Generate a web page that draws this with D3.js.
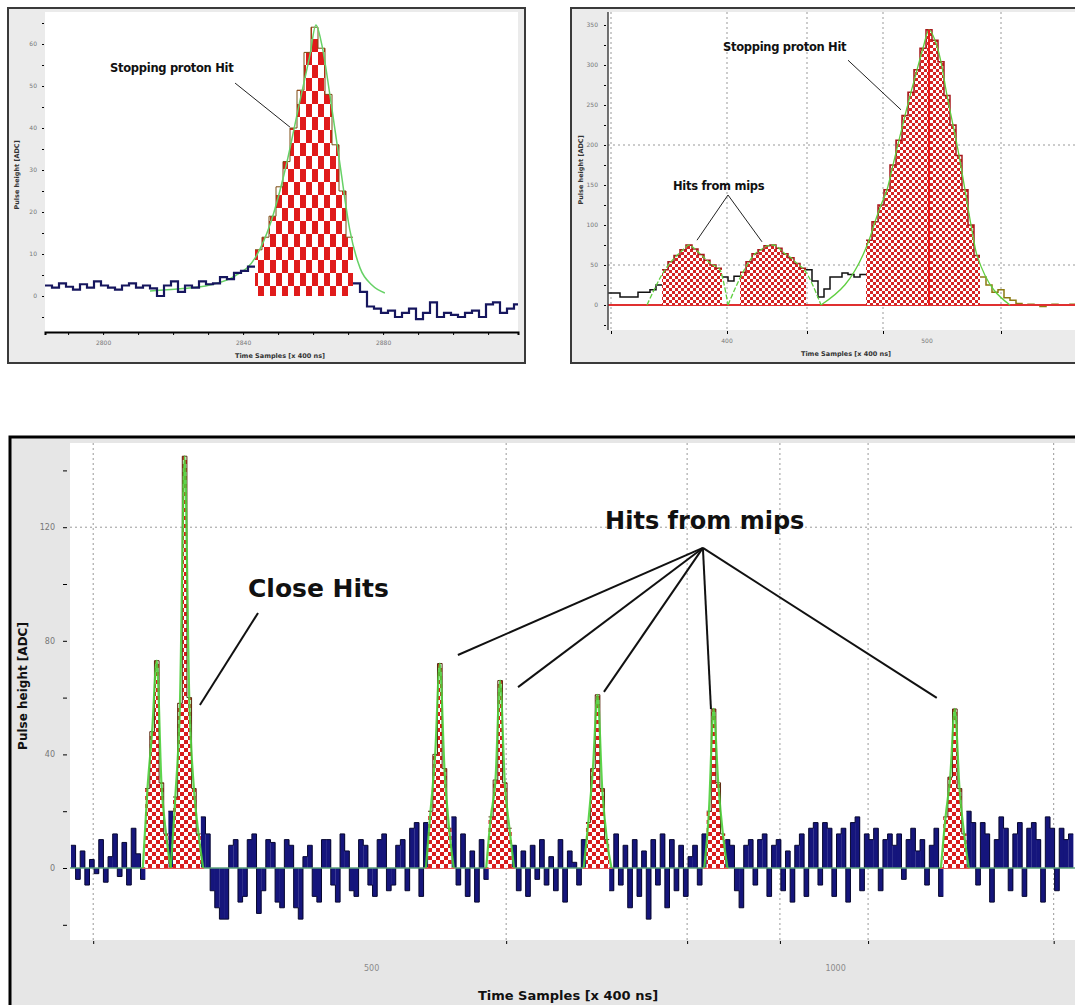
<!DOCTYPE html>
<html><head><meta charset="utf-8">
<script src="https://cdn.jsdelivr.net/npm/d3@7"></script>
<style>
body{margin:0;background:#fff}
svg{display:block}
text{font-family:"DejaVu Sans",sans-serif}
</style>
</head><body>
<svg id="c" width="1075" height="1005"></svg>
<script>
// ================= DATA =================
// Panel A (top left): a single stopping proton hit
const aStart = 2783.4, aBin = 2;
const aValues = [2.5, 2, 3, 2.2, 1.5, 2.8, 2, 3.5, 2.5, 2, 1.5, 2.5, 3, 2, 2.5, 1.8, 0, 2.5, 3.5, 1, 2.5, 2, 3.5, 2.8, 3, 4.5, 4, 5.5, 6, 7,
  11, 14, 19, 26, 32, 40, 49, 58, 64, 59, 48, 36, 25, 14,
  3, 1, -2.5, -3, -4, -3.5, -5, -4, -3, -5.5, -4, -1.5, -5, -4, -4.5, -5, -4, -3.5, -5, -2, -1.5, -4, -3, -2];
const aHit = [30, 43];
const aFitT = [2813.4, 2822, 2830.5, 2837.7, 2843.4, 2847.7, 2852, 2856.3, 2859.1, 2860.8, 2862.5, 2864.8, 2867.7, 2870.5, 2873.4, 2876.8, 2880.5];
const aFitV = [1.2, 1.7, 2.6, 4.8, 9, 17, 30, 46.7, 57.4, 64.5, 59.8, 47.9, 31.2, 15.7, 6.7, 2.6, 0.7];
const aXTicks = [2790, 2800, 2810, 2820, 2830, 2840, 2850, 2860, 2870, 2880, 2890, 2900, 2910];
const aXLabels = [2800, 2840, 2880];
const aYTicks = [-5, 0, 5, 10, 15, 20, 25, 30, 35, 40, 45, 50, 55, 60, 65];
const aYLabels = [0, 10, 20, 30, 40, 50, 60];
const aLabelPos = [2802, 53.3];
const aLeader = [[2837.7, 50.7], [2853.4, 40.2]];

// Panel B (top right): two mip hits and a stopping proton
const bStart = 340.5, bBin = 3;
const bValues = [15, 15, 10, 10, 10, 16, 16, 19, 25,
  44, 54, 62, 69, 75, 70, 63, 56, 50, 46,
  35, 30, 36,
  41, 54, 64, 69, 74, 75, 71, 64, 59, 52, 46,
  44, 30, 10,
  20, 35, 35, 40, 38, 35, 38,
  81, 104, 125, 144, 175, 206, 237, 266, 294, 321, 344, 331, 304, 262, 225, 187, 144, 100, 62,
  35, 25, 16, 19, 9, 6,
  2, 0, 1, 0, -2, 0, 1, 0, 0, 1];
const bHits = [[9, 18], [22, 32], [43, 61]];
const bFitZeros = [[6.5, 20], [20, 35.5], [35.5, 67]];
const bXGrid = [342, 400, 440, 478, 537];
const bXLabels = [400, 500];
const bYTicks = [-25, 0, 25, 50, 75, 100, 125, 150, 175, 200, 225, 250, 275, 300, 325, 350];
const bYLabels = [0, 50, 100, 150, 200, 250, 300, 350];
const bYGrid = [50, 200];
const bLabel1Pos = [398, 317.5];
const bLeader1 = [[460.5, 306], [487, 244]];
const bLabel2Pos = [373, 144];
const bLeader2 = [[385, 81], [400.5, 137.5], [417.5, 79]];

// Panel C (bottom): close hits and hits from mips on a noisy baseline
const cStart = 176, cBin = 5;
const cValues = [8, -4, 6, -6, 3, -2, 10, -5, 4, 12, -3, 9, -6, 14, 5, -4,
  28, 48, 73, 30, 12,
  20,
  25, 58, 145, 60, 28, 12,
  18, 12, -8, -14, -18, -18, 8, 10, -12, -10, 10, 12, -16, -8, 10, 9, -12, -14, 10, 8, -14, -18, 4, 8, -10, -12, 10, 10, -6, -12, 12, 6, -8, -10, 10, 8, -6, -10, 10, 12, -8, -6, 8, 10, -8, 14, 16, -10, 16,
  20, 40, 72, 35, 14,
  18, -6, 12, -10, 6, -12, 10, -4,
  18, 31, 66, 30, 14,
  8, -8, 6, -10, 8, -4, 10, -6, 4, -8, 10, -12, 6, 2, -6, 10,
  16, 35, 61, 28, 10,
  -8, 12, -6, 8, -14, 10, -10, 6, -18, 10, -6, 12, -14, 10, -8, 8, -10, 4, 8, -6, 12,
  20, 56, 30, 12,
  10, 8, -8, -14, 8, 10, -6, 10, 12, -10, 8, 10, -8, 6, -12, 8, 12, -10, 14, 16, -6, 16, 14, -10, 12, 14, -12, 16, 18, -8, 12, 10, 14, -8, 10, 12, 8, 12, -4, 10, 14, 6, 10, -6, 8, 14, -10,
  18, 32, 56, 28, 12,
  20, 16, -6, 16, 12, -12, 10, 18, 14, -8, 12, 16, -10, 14, 16, 10, -12, 18, 14, -8, 14, 10, 12];
const cHits = [[16, 20], [22, 27], [77, 81], [90, 94], [111, 115], [137, 140], [188, 192]];
const cXGrid = [200, 645, 840, 940, 1035, 1235];
const cXLabels = [500, 1000];
const cYTicks = [-20, 0, 20, 40, 60, 80, 100, 120, 140];
const cYLabels = [0, 40, 80, 120];
const cYGrid = [120];
const cLabel1Pos = [366.8, 95.4];
const cLeader1 = [[377.6, 89.8], [315, 57.4]];
const cLabel2Pos = [859, 119.5];
const cHub = [857, 112.7];
const cLeaderEnds = [[593, 75], [657.8, 63.7], [750.4, 62], [865.7, 56], [1109, 59.9]];

const xTitle = "Time Samples [x 400 ns]";
const yTitle = "Pulse height [ADC]";

// ================= DRAWING =================
const svg = d3.select('#c');
const defs = svg.append('defs');
function checker(id, w, h, red) {
  const p = defs.append('pattern').attr('id', id).attr('patternUnits', 'userSpaceOnUse')
    .attr('width', 2 * w).attr('height', 2 * h);
  p.append('rect').attr('width', 2 * w).attr('height', 2 * h).attr('fill', red);
  p.append('rect').attr('width', w).attr('height', h).attr('fill', '#fff');
  p.append('rect').attr('x', w).attr('y', h).attr('width', w).attr('height', h).attr('fill', '#fff');
}
checker('patA', 6, 13, '#e01b1b');
checker('patB', 3, 3, '#d42424');
checker('patC', 4, 4, '#d81c1c');
function clip(id, x, y, w, h) {
  defs.append('clipPath').attr('id', id).append('rect').attr('x', x).attr('y', y).attr('width', w).attr('height', h);
}

function pts(values, start, bin, from, to) {
  const p = [];
  for (let i = from; i <= to; i++) p.push({ t: start + i * bin, v: values[i] });
  p.push({ t: start + (to + 1) * bin, v: values[to] });
  return p;
}

// ---------- Panel A ----------
{
  svg.append('rect').attr('x', 8).attr('y', 8).attr('width', 517).attr('height', 355)
    .attr('fill', '#ebebeb').attr('stroke', '#3a3a3a').attr('stroke-width', 2);
  svg.append('rect').attr('x', 45).attr('y', 12).attr('width', 473).attr('height', 320).attr('fill', '#fff');
  const x = d3.scaleLinear().domain([aStart, aStart + 473 / 3.5]).range([45, 518]);
  const y = d3.scaleLinear().domain([-8.57, 67.62]).range([332, 12]);
  clip('clipA', 45, 12, 473, 320);
  const g = svg.append('g').attr('clip-path', 'url(#clipA)');
  const area = d3.area().curve(d3.curveStepAfter).x(d => x(d.t)).y0(y(0)).y1(d => y(d.v));
  const line = d3.line().curve(d3.curveStepAfter).x(d => x(d.t)).y(d => y(d.v));
  const hp = pts(aValues, aStart, aBin, aHit[0], aHit[1]);
  g.append('path').attr('d', area(hp)).attr('fill', 'url(#patA)');
  g.append('path').attr('d', line(hp)).attr('fill', 'none').attr('stroke', '#7a4a10').attr('stroke-width', 1);
  const fit = aFitT.map((t, i) => ({ t, v: aFitV[i] }));
  g.append('path').attr('d', d3.line().curve(d3.curveMonotoneX).x(d => x(d.t)).y(d => y(d.v))(fit))
    .attr('fill', 'none').attr('stroke', '#66d166').attr('stroke-width', 1.5);
  [[0, aHit[0] - 1], [aHit[1] + 1, aValues.length - 1]].forEach(([a, b]) => {
    g.append('path').attr('d', line(pts(aValues, aStart, aBin, a, b)))
      .attr('fill', 'none').attr('stroke', '#16165e').attr('stroke-width', 2.2);
  });
  const ax = svg.append('g').attr('transform', 'translate(0,332)')
    .call(d3.axisBottom(x).tickValues(aXTicks).tickSize(3).tickPadding(6).tickFormat(d => aXLabels.includes(d) ? d : ''));
  ax.select('.domain').attr('stroke-width', 2);
  ax.selectAll('text').attr('font-size', 6).attr('fill', '#777');
  const ay = svg.append('g').attr('transform', 'translate(44,0)')
    .call(d3.axisLeft(y).tickValues(aYTicks).tickSize(2).tickPadding(5).tickFormat(d => aYLabels.includes(d) ? d : ''));
  ay.select('.domain').remove();
  ay.selectAll('text').attr('font-size', 6).attr('fill', '#777');
  svg.append('text').attr('x', 280).attr('y', 358).attr('text-anchor', 'middle').attr('font-size', 6.5)
    .attr('font-weight', 'bold').attr('fill', '#333').text(xTitle);
  svg.append('text').attr('transform', 'translate(19,175) rotate(-90)').attr('text-anchor', 'middle')
    .attr('font-size', 6.5).attr('font-weight', 'bold').attr('fill', '#333').text(yTitle);
  svg.append('text').attr('x', x(aLabelPos[0])).attr('y', y(aLabelPos[1])).attr('font-size', 11.5)
    .attr('font-weight', 'bold').attr('letter-spacing', -0.3).attr('fill', '#111').text('Stopping proton Hit');
  svg.append('path').attr('d', d3.line().x(d => x(d[0])).y(d => y(d[1]))(aLeader))
    .attr('stroke', '#222').attr('stroke-width', 1).attr('fill', 'none');
}

// ---------- Panel B ----------
{
  svg.append('rect').attr('x', 571).attr('y', 8).attr('width', 520).attr('height', 355)
    .attr('fill', '#ebebeb').attr('stroke', '#3a3a3a').attr('stroke-width', 2);
  svg.append('rect').attr('x', 608).attr('y', 12).attr('width', 467).attr('height', 318).attr('fill', '#fff');
  const x = d3.scaleLinear().domain([bStart, bStart + 467 / 2]).range([608, 1075]);
  const y = d3.scaleLinear().domain([-31.25, 366.25]).range([330, 12]);
  clip('clipB', 608, 12, 467, 318);
  const g = svg.append('g').attr('clip-path', 'url(#clipB)');
  bYGrid.forEach(v => g.append('line').attr('x1', 608).attr('x2', 1075).attr('y1', y(v)).attr('y2', y(v))
    .attr('stroke', '#999').attr('stroke-dasharray', '2,3'));
  bXGrid.forEach(t => g.append('line').attr('x1', x(t)).attr('x2', x(t)).attr('y1', 12).attr('y2', 330)
    .attr('stroke', '#999').attr('stroke-dasharray', '2,3'));
  const area = d3.area().curve(d3.curveStepAfter).x(d => x(d.t)).y0(y(0)).y1(d => y(d.v));
  const line = d3.line().curve(d3.curveStepAfter).x(d => x(d.t)).y(d => y(d.v));
  let prev = 0;
  bHits.forEach(([a, b]) => {
    if (a - 1 >= prev) g.append('path').attr('d', line(pts(bValues, bStart, bBin, prev, a - 1)))
      .attr('fill', 'none').attr('stroke', '#111').attr('stroke-width', 1.5);
    prev = b + 1;
  });
  g.append('path').attr('d', line(pts(bValues, bStart, bBin, prev, bValues.length - 1)))
    .attr('fill', 'none').attr('stroke', '#8a7a10').attr('stroke-width', 1.5);
  g.append('line').attr('x1', 608).attr('x2', 1075).attr('y1', y(0)).attr('y2', y(0))
    .attr('stroke', '#e03030').attr('stroke-width', 2);
  bHits.forEach(([a, b], k) => {
    const hp = pts(bValues, bStart, bBin, a, b);
    g.append('path').attr('d', area(hp)).attr('fill', 'url(#patB)');
    g.append('path').attr('d', line(hp)).attr('fill', 'none').attr('stroke', '#a8181c').attr('stroke-width', 1.5);
    const fp = [{ t: bStart + bFitZeros[k][0] * bBin, v: 0 }];
    for (let i = a; i <= b; i++) fp.push({ t: bStart + (i + 0.5) * bBin, v: bValues[i] });
    fp.push({ t: bStart + bFitZeros[k][1] * bBin, v: 0 });
    g.append('path').attr('d', d3.line().curve(d3.curveMonotoneX).x(d => x(d.t)).y(d => y(d.v))(fp))
      .attr('fill', 'none').attr('stroke', '#5fcf3f').attr('stroke-width', 1.3).attr('stroke-dasharray', k === 2 ? null : '5,2');
  });
  const [pa, pb] = bHits[2];
  let im = pa; for (let i = pa; i <= pb; i++) if (bValues[i] > bValues[im]) im = i;
  g.append('line').attr('x1', x(bStart + (im + 0.5) * bBin)).attr('x2', x(bStart + (im + 0.5) * bBin))
    .attr('y1', y(0)).attr('y2', y(bValues[im])).attr('stroke', '#ee1c1c').attr('stroke-width', 2);
  svg.append('line').attr('x1', 608).attr('x2', 608).attr('y1', 12).attr('y2', 330).attr('stroke', '#444').attr('stroke-width', 1.5);
  const ax = svg.append('g').attr('transform', 'translate(0,331)')
    .call(d3.axisBottom(x).tickValues(bXGrid).tickSize(3).tickFormat(''));
  ax.select('.domain').remove();
  bXLabels.forEach(t => svg.append('text').attr('x', x(t)).attr('y', 343).attr('text-anchor', 'middle')
    .attr('font-size', 6).attr('fill', '#777').text(t));
  const ay = svg.append('g').attr('transform', 'translate(606,0)')
    .call(d3.axisLeft(y).tickValues(bYTicks).tickSize(2).tickPadding(6).tickFormat(d => bYLabels.includes(d) ? d : ''));
  ay.select('.domain').remove();
  ay.selectAll('text').attr('font-size', 6).attr('fill', '#777');
  svg.append('text').attr('x', 846).attr('y', 356).attr('text-anchor', 'middle').attr('font-size', 6.5)
    .attr('font-weight', 'bold').attr('fill', '#333').text(xTitle);
  svg.append('text').attr('transform', 'translate(583,170) rotate(-90)').attr('text-anchor', 'middle')
    .attr('font-size', 6.5).attr('font-weight', 'bold').attr('fill', '#333').text(yTitle);
  svg.append('text').attr('x', x(bLabel1Pos[0])).attr('y', y(bLabel1Pos[1])).attr('font-size', 11.5)
    .attr('font-weight', 'bold').attr('letter-spacing', -0.3).attr('fill', '#111').text('Stopping proton Hit');
  svg.append('path').attr('d', d3.line().x(d => x(d[0])).y(d => y(d[1]))(bLeader1))
    .attr('stroke', '#222').attr('stroke-width', 1).attr('fill', 'none');
  svg.append('text').attr('x', x(bLabel2Pos[0])).attr('y', y(bLabel2Pos[1])).attr('font-size', 11.5)
    .attr('font-weight', 'bold').attr('letter-spacing', -0.3).attr('fill', '#111').text('Hits from mips');
  svg.append('path').attr('d', d3.line().x(d => x(d[0])).y(d => y(d[1]))(bLeader2))
    .attr('stroke', '#222').attr('stroke-width', 1).attr('fill', 'none');
}

// ---------- Panel C ----------
{
  svg.append('rect').attr('x', 10).attr('y', 437).attr('width', 1080).attr('height', 580)
    .attr('fill', '#e6e6e6').attr('stroke', '#000').attr('stroke-width', 3);
  svg.append('rect').attr('x', 70).attr('y', 443).attr('width', 1005).attr('height', 497).attr('fill', '#fff');
  const x = d3.scaleLinear().domain([175, 175 + 1005 / 0.928]).range([70, 1075]);
  const y = d3.scaleLinear().domain([-25.35, 149.65]).range([940, 443]);
  clip('clipC', 70, 443, 1005, 497);
  const g = svg.append('g').attr('clip-path', 'url(#clipC)');
  cYGrid.forEach(v => g.append('line').attr('x1', 70).attr('x2', 1075).attr('y1', y(v)).attr('y2', y(v))
    .attr('stroke', '#999').attr('stroke-dasharray', '2,3'));
  cXGrid.forEach(t => g.append('line').attr('x1', x(t)).attr('x2', x(t)).attr('y1', 443).attr('y2', 940)
    .attr('stroke', '#999').attr('stroke-dasharray', '2,3'));
  const inHit = i => cHits.some(([a, b]) => i >= a && i <= b);
  const bw = x(cStart + cBin) - x(cStart);
  g.selectAll('rect.bar').data(cValues.map((v, i) => ({ i, v })).filter(d => !inHit(d.i) && d.v !== 0))
    .join('rect').attr('class', 'bar')
    .attr('x', d => x(cStart + d.i * cBin)).attr('width', bw + 0.2)
    .attr('y', d => Math.min(y(d.v), y(0))).attr('height', d => Math.abs(y(d.v) - y(0)))
    .attr('fill', '#15157c');
  const line = d3.line().curve(d3.curveStepAfter).x(d => x(d.t)).y(d => y(d.v));
  let prev = 0;
  cHits.forEach(([a, b]) => {
    if (a - 1 >= prev) g.append('path').attr('d', line(pts(cValues, cStart, cBin, prev, a - 1)))
      .attr('fill', 'none').attr('stroke', '#080830').attr('stroke-width', 1);
    prev = b + 1;
  });
  g.append('path').attr('d', line(pts(cValues, cStart, cBin, prev, cValues.length - 1)))
    .attr('fill', 'none').attr('stroke', '#080830').attr('stroke-width', 1);
  g.append('line').attr('x1', 70).attr('x2', 1075).attr('y1', y(0)).attr('y2', y(0))
    .attr('stroke', '#5aa07a').attr('stroke-width', 1.6);
  const area = d3.area().curve(d3.curveStepAfter).x(d => x(d.t)).y0(y(0)).y1(d => y(d.v));
  cHits.forEach(([a, b]) => {
    const hp = pts(cValues, cStart, cBin, a, b);
    g.append('line').attr('x1', x(cStart + a * cBin) - 3).attr('x2', x(cStart + (b + 1) * cBin) + 3)
      .attr('y1', y(0)).attr('y2', y(0)).attr('stroke', '#e05a5a').attr('stroke-width', 2);
    g.append('path').attr('d', area(hp)).attr('fill', 'url(#patC)');
    g.append('path').attr('d', line(hp)).attr('fill', 'none').attr('stroke', '#5a2a10').attr('stroke-width', 1);
    const fp = [{ t: cStart + (a - 0.5) * cBin, v: 0 }];
    for (let i = a; i <= b; i++) fp.push({ t: cStart + (i + 0.5) * cBin, v: cValues[i] });
    fp.push({ t: cStart + (b + 1.5) * cBin, v: 0 });
    g.append('path').attr('d', d3.line().curve(d3.curveMonotoneX).x(d => x(d.t)).y(d => y(d.v))(fp))
      .attr('fill', 'none').attr('stroke', '#4ccf3a').attr('stroke-width', 2.2).attr('opacity', 0.9);
  });
  const ax = svg.append('g').attr('transform', 'translate(0,941)')
    .call(d3.axisBottom(x).tickValues(cXGrid).tickSize(3).tickFormat(''));
  ax.select('.domain').remove();
  cXLabels.forEach(t => svg.append('text').attr('x', x(t)).attr('y', 971).attr('text-anchor', 'middle')
    .attr('font-size', 8).attr('fill', '#8a8a8a').text(t));
  const ay = svg.append('g').attr('transform', 'translate(67,0)')
    .call(d3.axisLeft(y).tickValues(cYTicks).tickSize(4).tickPadding(8).tickFormat(d => cYLabels.includes(d) ? d : ''));
  ay.select('.domain').remove();
  ay.selectAll('text').attr('font-size', 8).attr('fill', '#777');
  svg.append('text').attr('x', 568).attr('y', 1000).attr('text-anchor', 'middle').attr('font-size', 13)
    .attr('font-weight', 'bold').attr('fill', '#111').text(xTitle);
  svg.append('text').attr('transform', 'translate(27,686) rotate(-90)').attr('text-anchor', 'middle')
    .attr('font-size', 12).attr('font-weight', 'bold').attr('fill', '#111').text(yTitle);
  svg.append('text').attr('x', x(cLabel1Pos[0])).attr('y', y(cLabel1Pos[1])).attr('font-size', 25)
    .attr('font-weight', 'bold').attr('fill', '#111').text('Close Hits');
  svg.append('path').attr('d', d3.line().x(d => x(d[0])).y(d => y(d[1]))(cLeader1))
    .attr('stroke', '#111').attr('stroke-width', 2).attr('fill', 'none');
  svg.append('text').attr('x', x(cLabel2Pos[0])).attr('y', y(cLabel2Pos[1])).attr('text-anchor', 'middle')
    .attr('font-size', 24).attr('font-weight', 'bold').attr('fill', '#111').text('Hits from mips');
  cLeaderEnds.forEach(e => svg.append('path').attr('d', d3.line().x(d => x(d[0])).y(d => y(d[1]))([cHub, e]))
    .attr('stroke', '#111').attr('stroke-width', 2).attr('fill', 'none'));
}
</script>
</body></html>
